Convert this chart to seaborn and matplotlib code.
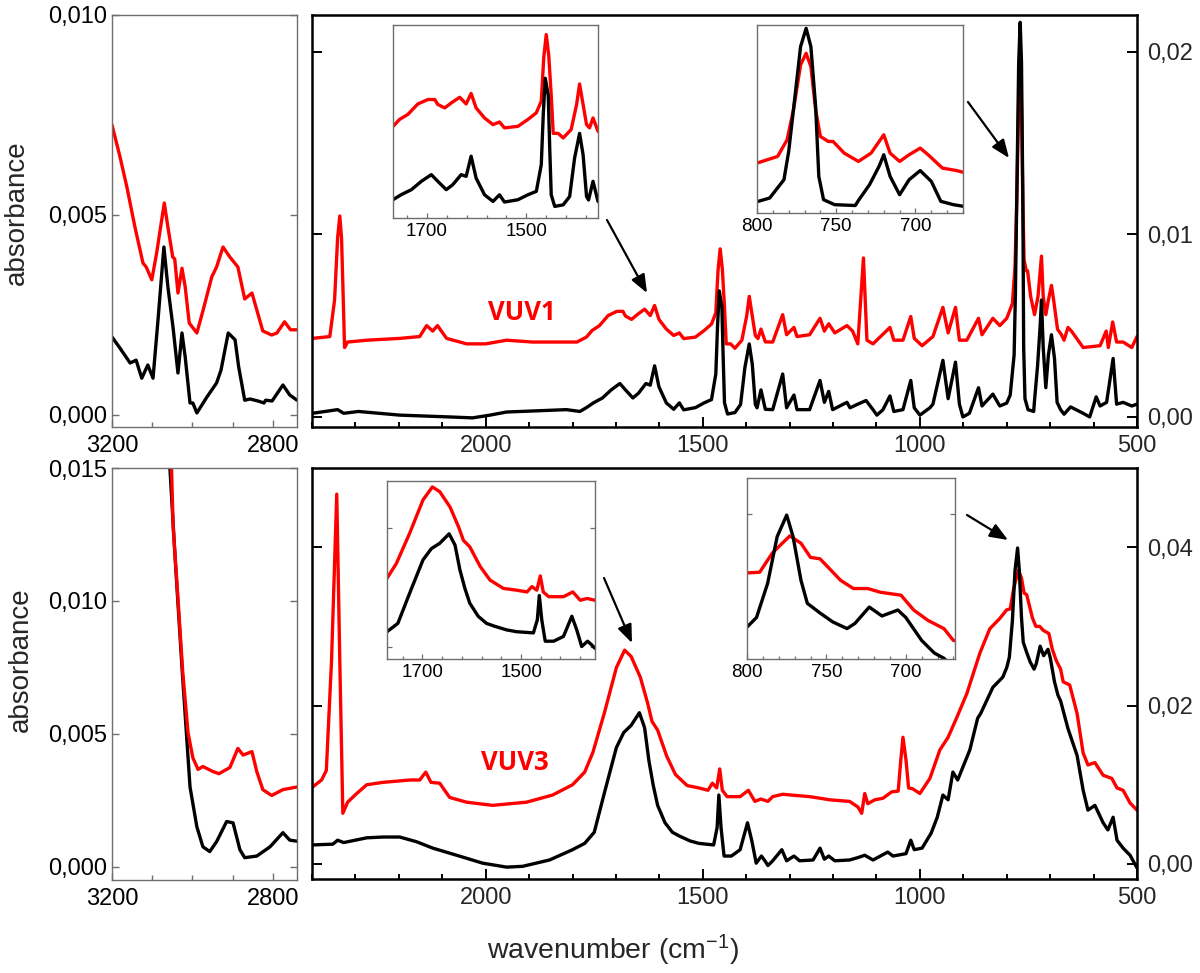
import matplotlib
matplotlib.use("Agg")
import matplotlib.pyplot as plt
import seaborn as sns
from matplotlib.ticker import FixedLocator, MultipleLocator, FuncFormatter, NullLocator

# ---------------- spectra ----------------
# upper row, C-H stretching region (left panel)
tl_red_wn = [3200, 3180, 3163, 3143, 3123, 3115, 3101, 3089, 3070, 3061, 3049, 3044, 3036, 3026, 3018,
             3008, 2989, 2974, 2952, 2940, 2924, 2907, 2887, 2870, 2852, 2825, 2803, 2790, 2771, 2756, 2740]
tl_red_abs = [0.00725, 0.00645, 0.0057, 0.0047, 0.0038, 0.0037, 0.00338, 0.00405, 0.0053, 0.0047, 0.00395,
              0.0039, 0.00305, 0.00367, 0.0032, 0.0023, 0.00205, 0.0026, 0.00345, 0.0037, 0.0042, 0.00395,
              0.0037, 0.0029, 0.00305, 0.0021, 0.0020, 0.00205, 0.00233, 0.00213, 0.00213]
tl_black_wn = [3200, 3180, 3155, 3140, 3126, 3111, 3098, 3085, 3071, 3061, 3048, 3036, 3026, 3018, 3006, 2999,
               2989, 2964, 2940, 2929, 2911, 2894, 2885, 2870, 2857, 2837, 2822, 2818, 2802, 2775, 2758, 2740]
tl_black_abs = [0.00195, 0.00167, 0.0013, 0.00137, 0.00092, 0.00125, 0.00092, 0.00245, 0.0042, 0.0032, 0.00217,
                0.00105, 0.00205, 0.00145, 0.0003, 0.0003, 0.00005, 0.00045, 0.0008, 0.00112, 0.00205, 0.00188,
                0.0012, 0.00037, 0.0004, 0.00035, 0.0003, 0.00037, 0.00035, 0.00075, 0.0005, 0.00037]

# upper row, fingerprint region (VUV1)
top_red_wn = [2399, 2359, 2348, 2341, 2336, 2332, 2329, 2325, 2318, 2274,
              2198, 2152, 2136, 2122, 2111, 2090, 2044, 2000, 1952, 1892,
              1790, 1768, 1755, 1738, 1718, 1698, 1684, 1678, 1664, 1651,
              1634, 1621, 1611, 1601, 1584, 1567, 1554, 1544, 1517, 1497,
              1480, 1470, 1465, 1460, 1455, 1450, 1446, 1436, 1426, 1410,
              1399, 1393, 1386, 1379, 1373, 1366, 1356, 1339, 1316, 1307,
              1290, 1283, 1254, 1230, 1220, 1210, 1196, 1168, 1155, 1143,
              1130, 1122, 1108, 1069, 1060, 1039, 1021, 1013, 995, 970,
              947, 935, 918, 909, 892, 865, 857, 832, 816, 800,
              787, 781, 777, 772.5, 769, 766, 763, 760, 755, 752,
              745, 736, 728, 720, 716, 710, 704, 697, 692, 683,
              674, 668, 659, 651, 624, 585, 571, 566, 556, 547,
              532, 512, 500]
top_red_abs = [0.0043, 0.0044, 0.0064, 0.0098, 0.0110, 0.0098, 0.0073, 0.0038, 0.0041, 0.0042,
               0.0043, 0.0044, 0.0050, 0.0047, 0.0050, 0.0043, 0.0040, 0.0040, 0.0042, 0.0041,
               0.0041, 0.00437, 0.00473, 0.0050, 0.00555, 0.00578, 0.00578, 0.00552, 0.00534, 0.0056,
               0.0059, 0.00555, 0.0061, 0.00534, 0.00481, 0.00446, 0.0046, 0.00429, 0.00437, 0.00473,
               0.00508, 0.0057, 0.0080, 0.0092, 0.0081, 0.0060, 0.0040, 0.0040, 0.00376, 0.0042,
               0.00552, 0.0066, 0.00552, 0.00446, 0.00429, 0.00481, 0.00411, 0.0041, 0.0056, 0.0045,
               0.0049, 0.0044, 0.0045, 0.0054, 0.0047, 0.0051, 0.0046, 0.0050, 0.0047, 0.0040,
               0.0087, 0.0042, 0.0040, 0.0049, 0.0042, 0.0042, 0.0055, 0.0043, 0.0039, 0.0044,
               0.0060, 0.0046, 0.0060, 0.0042, 0.0042, 0.0054, 0.0045, 0.0054, 0.0050, 0.0054,
               0.0062, 0.0082, 0.0118, 0.0172, 0.0186, 0.0170, 0.0118, 0.0086, 0.0080, 0.0080,
               0.0066, 0.0056, 0.0066, 0.0088, 0.0066, 0.0056, 0.0064, 0.0072, 0.0064, 0.0048,
               0.0045, 0.0042, 0.0049, 0.0047, 0.0038, 0.0039, 0.0047, 0.0038, 0.0052, 0.0041,
               0.0041, 0.0038, 0.0044]
top_black_wn = [2399, 2341, 2327, 2293, 2198, 2083, 2030, 1990, 1952, 1814,
                1783, 1768, 1752, 1731, 1711, 1691, 1678, 1661, 1648, 1631,
                1621, 1611, 1601, 1584, 1567, 1554, 1544, 1517, 1497, 1480,
                1470, 1466, 1462, 1456, 1453, 1450, 1443, 1426, 1413, 1403,
                1393, 1386, 1379, 1375, 1366, 1356, 1339, 1316, 1307, 1290,
                1283, 1254, 1230, 1220, 1210, 1201, 1168, 1161, 1143, 1124,
                1108, 1099, 1085, 1069, 1060, 1039, 1021, 1013, 1000, 977,
                970, 947, 935, 918, 909, 901, 886, 865, 857, 832,
                816, 800, 792, 783, 780, 777, 772.5, 769, 766, 763, 761,
                758, 751, 738, 736, 729, 723, 720, 716, 710, 704,
                697, 690, 684, 676, 668, 653, 624, 609, 594, 585,
                570, 555, 547, 532, 512, 500]
top_black_abs = [0.0002, 0.0004, 0.0002, 0.0003, 0.0001, 0.0, -0.00005, 0.0001, 0.00027, 0.0004,
                 0.0003, 0.00051, 0.00077, 0.00104, 0.00148, 0.00183, 0.00148, 0.00104, 0.0013, 0.00183,
                 0.00174, 0.0028, 0.00165, 0.00077, 0.00042, 0.00077, 0.00039, 0.00051, 0.00077, 0.00095,
                 0.00235, 0.0050, 0.0069, 0.0060, 0.0032, 0.00077, 0.00016, 0.00024, 0.00068, 0.00271,
                 0.0040, 0.00288, 0.00068, 0.0005, 0.00148, 0.00042, 0.0004, 0.00235, 0.0005, 0.0012,
                 0.0004, 0.0004, 0.0020, 0.0008, 0.0014, 0.0004, 0.0008, 0.0005, 0.0007, 0.0009,
                 0.0004, 0.0001, 0.0004, 0.00115, 0.0003, 0.0004, 0.0020, 0.0005, 0.0001, 0.0005,
                 0.0007, 0.0031, 0.0010, 0.0030, 0.0007, 0.0, 0.0002, 0.0016, 0.0006, 0.00125,
                 0.0006, 0.00076, 0.0012, 0.0034, 0.0068, 0.0118, 0.0194, 0.0216, 0.0194, 0.0122, 0.0038,
                 0.0010, 0.0004, 0.0003, 0.0009, 0.0028, 0.0050, 0.0064, 0.0038, 0.0016, 0.0034,
                 0.0045, 0.0032, 0.0008, 0.0004, 0.00015, 0.00055, 0.0002, 0.0, 0.0011, 0.0006,
                 0.0008, 0.0032, 0.0007, 0.0008, 0.0006, 0.0007]

# lower row, C-H stretching region (left panel)
bl_red_wn = [3058, 3052, 3048, 3036, 3024, 3011, 2999, 2986, 2974, 2949, 2934, 2907, 2887, 2874, 2852, 2840,
             2825, 2803, 2775, 2740]
bl_red_abs = [0.0175, 0.0150, 0.0128, 0.0101, 0.0073, 0.00505, 0.0041, 0.00366, 0.00377, 0.00358, 0.0035,
              0.00373, 0.00445, 0.0042, 0.00433, 0.00358, 0.0029, 0.00268, 0.0029, 0.0030]
bl_black_wn = [3062, 3056, 3043, 3026, 3014, 3006, 2989, 2974, 2957, 2940, 2915, 2899, 2882, 2870, 2840, 2807,
               2775, 2758, 2740]
bl_black_abs = [0.0175, 0.0150, 0.0116, 0.0075, 0.0048, 0.0030, 0.0015, 0.00075, 0.00057, 0.00094, 0.0017,
                0.00165, 0.00064, 0.00034, 0.0004, 0.00075, 0.00128, 0.0010, 0.00096]

# lower row, fingerprint region (VUV3)
bot_red_wn = [2399, 2378, 2367, 2355, 2343, 2336, 2329, 2318, 2297, 2274,
              2237, 2175, 2152, 2138, 2126, 2106, 2083, 2044, 1984, 1906,
              1846, 1800, 1772, 1753, 1726, 1699, 1680, 1665, 1644, 1627,
              1617, 1604, 1583, 1563, 1536, 1509, 1488, 1478, 1468, 1461,
              1455, 1444, 1414, 1395, 1380, 1366, 1350, 1339, 1316, 1296,
              1254, 1230, 1208, 1162, 1143, 1134, 1127, 1120, 1104, 1085,
              1065, 1050, 1044, 1039, 1032, 1026, 1017, 1000, 977, 954,
              935, 915, 892, 862, 839, 816, 800, 792, 784, 773,
              766, 760, 754, 741, 733, 724, 716, 703, 695, 686,
              676, 670, 655, 638, 624, 613, 597, 578, 558, 546,
              532, 516, 500]
bot_red_abs = [0.0097, 0.0106, 0.0118, 0.0257, 0.0467, 0.0257, 0.0064, 0.0078, 0.0089, 0.0100,
               0.0103, 0.0106, 0.0106, 0.0116, 0.0103, 0.0102, 0.0084, 0.0078, 0.0074, 0.0078,
               0.0087, 0.0100, 0.0116, 0.0141, 0.0192, 0.0248, 0.0270, 0.0262, 0.0236, 0.0203,
               0.0180, 0.0169, 0.0136, 0.0113, 0.0099, 0.0096, 0.0093, 0.0102, 0.0096, 0.0120,
               0.0093, 0.0085, 0.0085, 0.0093, 0.0079, 0.0082, 0.0079, 0.0085, 0.0088, 0.0087,
               0.0085, 0.0083, 0.0081, 0.0079, 0.0072, 0.0064, 0.0089, 0.0076, 0.0081, 0.0083,
               0.0091, 0.0092, 0.0131, 0.0160, 0.0131, 0.0096, 0.0095, 0.0089, 0.0108, 0.0144,
               0.0160, 0.0185, 0.0215, 0.0266, 0.0297, 0.0310, 0.0321, 0.0322, 0.0348, 0.0371,
               0.0361, 0.0342, 0.0340, 0.0311, 0.0300, 0.0300, 0.0295, 0.0291, 0.0271, 0.0257,
               0.0246, 0.0230, 0.0226, 0.0190, 0.0140, 0.0125, 0.0128, 0.0112, 0.0108, 0.0096,
               0.0093, 0.0077, 0.0068]
bot_black_wn = [2399, 2352, 2341, 2327, 2274, 2237, 2198, 2159, 2122, 2067,
                2007, 1952, 1915, 1853, 1800, 1772, 1750, 1726, 1699, 1682,
                1665, 1646, 1634, 1624, 1614, 1604, 1587, 1570, 1553, 1529,
                1509, 1475, 1467, 1463, 1458, 1451, 1434, 1414, 1397, 1387,
                1377, 1365, 1357, 1350, 1339, 1318, 1307, 1290, 1277, 1246,
                1230, 1220, 1210, 1196, 1162, 1143, 1127, 1108, 1074, 1062,
                1032, 1021, 1013, 995, 974, 960, 947, 935, 924, 913,
                885, 867, 860, 832, 809, 800, 794, 787, 781, 775,
                771, 766, 762, 754, 746, 737, 732, 723, 715, 705,
                700, 690, 682, 676, 659, 638, 624, 613, 597, 578,
                567, 555, 546, 532, 516, 500]
bot_black_abs = [0.0024, 0.0025, 0.0030, 0.0027, 0.0033, 0.0034, 0.0034, 0.0028, 0.0020, 0.0011,
                 0.0001, -0.0004, -0.0003, 0.0005, 0.0018, 0.0026, 0.0040, 0.0091, 0.0147, 0.0166,
                 0.0175, 0.0191, 0.0172, 0.0130, 0.0099, 0.0074, 0.0052, 0.0040, 0.0035, 0.0029,
                 0.0026, 0.0024, 0.0046, 0.0087, 0.0046, 0.0010, 0.0010, 0.0018, 0.0052, 0.0029,
                 0.0001, 0.0010, 0.0004, -0.0002, 0.0004, 0.0018, 0.0004, 0.0010, 0.0004, 0.0005,
                 0.0020, 0.0006, 0.0010, 0.0004, 0.0005, 0.0008, 0.0011, 0.0005, 0.0015, 0.0010,
                 0.0013, 0.0030, 0.0018, 0.0020, 0.0039, 0.0059, 0.0087, 0.0081, 0.0116, 0.0106,
                 0.0144, 0.0184, 0.0190, 0.0223, 0.0236, 0.0248, 0.0261, 0.0307, 0.0370, 0.0399,
                 0.0370, 0.0311, 0.0280, 0.0267, 0.0255, 0.0246, 0.0253, 0.0275, 0.0263, 0.0271,
                 0.0261, 0.0230, 0.0213, 0.0206, 0.0171, 0.0137, 0.0093, 0.0068, 0.0074, 0.0052,
                 0.0043, 0.0059, 0.0030, 0.0020, 0.0011, -0.0005]

# ---------------- styling ----------------
sns.set_style("ticks")
plt.rcParams['font.family'] = ['Liberation Sans', 'DejaVu Sans']
plt.rcParams['mathtext.fontset'] = 'custom'
plt.rcParams['mathtext.rm'] = 'Liberation Sans'
plt.rcParams['mathtext.it'] = 'Liberation Sans:italic'

RED = '#ff0000'
BLACK = '#000000'
GREY = '#6e6e6e'

fig = plt.figure(figsize=(12, 9.73), dpi=100)


def panel(left, top, right, bottom):
    # box given in pixels of the 1200x973 picture
    return fig.add_axes([left / 1200, 1 - bottom / 973, (right - left) / 1200, (bottom - top) / 973])


def comma(fmt):
    return FuncFormatter(lambda v, pos: format(v, fmt).replace('.', ','))


def draw(ax, wn, absb, color, lw=2.4):
    sns.lineplot(x=wn, y=absb, ax=ax, color=color, linewidth=lw, estimator=None, legend=False)
    ax.set_xlabel('')
    ax.set_ylabel('')


def style_main(ax, ylim, yticks):
    ax.set_xlim(2400, 500)
    ax.set_ylim(*ylim)
    ax.xaxis.set_major_locator(MultipleLocator(500))
    ax.xaxis.set_minor_locator(MultipleLocator(100))
    ax.yaxis.set_major_locator(FixedLocator(yticks))
    ax.yaxis.set_minor_locator(NullLocator())
    ax.yaxis.set_major_formatter(comma('.2f'))
    ax.tick_params(which='both', direction='in', color='black', width=1.4)
    ax.tick_params(which='major', length=7, labelsize=17)
    ax.tick_params(which='minor', length=3.5)
    ax.tick_params(axis='x', which='both', bottom=True, top=False, pad=6)
    ax.tick_params(axis='y', left=True, right=True, labelleft=False, labelright=True, pad=7)
    for sp in ax.spines.values():
        sp.set_visible(True)
        sp.set_color('black')
        sp.set_linewidth(1.8)


def style_left(ax, ylim, yticks):
    ax.set_xlim(3200, 2740)
    ax.set_ylim(*ylim)
    ax.xaxis.set_major_locator(FixedLocator([3200, 2800]))
    ax.xaxis.set_minor_locator(MultipleLocator(100))
    ax.yaxis.set_major_locator(FixedLocator(yticks))
    ax.yaxis.set_major_formatter(comma('.3f'))
    ax.tick_params(which='both', direction='in', color=GREY, width=1.0, labelcolor='black')
    ax.tick_params(which='major', length=5, labelsize=17)
    ax.tick_params(which='minor', length=3.5)
    ax.tick_params(axis='x', which='both', bottom=True, top=False, pad=6)
    ax.tick_params(axis='y', left=True, right=True, pad=3.5)
    for sp in ax.spines.values():
        sp.set_visible(True)
        sp.set_color(GREY)
        sp.set_linewidth(1.0)


def style_inset(ax, xlim, ylim, xmajor, xminor, yticks):
    ax.set_xlim(*xlim)
    ax.set_ylim(*ylim)
    ax.xaxis.set_major_locator(xmajor)
    ax.xaxis.set_minor_locator(xminor)
    ax.xaxis.set_major_formatter(FuncFormatter(lambda v, pos: f"{v:.0f}"))
    ax.yaxis.set_major_locator(FixedLocator(yticks))
    ax.tick_params(which='both', direction='in', color=GREY, width=0.9, labelcolor='black')
    ax.tick_params(which='major', length=3.5, labelsize=13.5)
    ax.tick_params(which='minor', length=2.5)
    ax.tick_params(axis='x', which='both', bottom=True, top=False, pad=3.5)
    ax.tick_params(axis='y', left=True, right=True, labelleft=False)
    for sp in ax.spines.values():
        sp.set_visible(True)
        sp.set_color(GREY)
        sp.set_linewidth(1.0)


def arrow(ax, x0, y0, x1, y1):
    ax.annotate('', xy=(x1 / 1200, 1 - y1 / 973), xytext=(x0 / 1200, 1 - y0 / 973),
                xycoords='figure fraction', textcoords='figure fraction',
                arrowprops=dict(arrowstyle='-|>,head_length=0.55,head_width=0.22', color='black',
                                lw=1.6, shrinkA=0, shrinkB=0, mutation_scale=20))


# ---- upper row ----
ax_tl = panel(112, 15, 297, 427)
draw(ax_tl, tl_black_wn, tl_black_abs, BLACK)
draw(ax_tl, tl_red_wn, tl_red_abs, RED)
style_left(ax_tl, (-0.0003, 0.010), [0.0, 0.005, 0.010])

ax_tm = panel(312, 15, 1137, 427)
draw(ax_tm, top_red_wn, top_red_abs, RED)
draw(ax_tm, top_black_wn, top_black_abs, BLACK)
style_main(ax_tm, (-0.00055, 0.022), [0.0, 0.01, 0.02])
arrow(ax_tm, 607, 220, 647, 293)
arrow(ax_tm, 968, 102, 1009, 158)

ax_i1 = panel(393, 25, 598, 218)
draw(ax_i1, top_red_wn, top_red_abs, RED)
draw(ax_i1, top_black_wn, top_black_abs, BLACK)
style_inset(ax_i1, (1768, 1356), (-0.00045, 0.0097), FixedLocator([1700, 1500]),
            FixedLocator(list(range(1380, 1780, 40))), [])

ax_i2 = panel(757, 25, 963, 213)
draw(ax_i2, top_red_wn, top_red_abs, RED)
draw(ax_i2, top_black_wn, top_black_abs, BLACK)
style_inset(ax_i2, (800, 670), (-0.0006, 0.022), MultipleLocator(50), MultipleLocator(10), [])

# ---- lower row ----
ax_bl = panel(112, 468, 297, 880)
draw(ax_bl, bl_black_wn, bl_black_abs, BLACK)
draw(ax_bl, bl_red_wn, bl_red_abs, RED)
style_left(ax_bl, (-0.0005, 0.015), [0.0, 0.005, 0.010, 0.015])

ax_bm = panel(312, 468, 1137, 879)
draw(ax_bm, bot_red_wn, bot_red_abs, RED)
draw(ax_bm, bot_black_wn, bot_black_abs, BLACK)
style_main(ax_bm, (-0.0019, 0.050), [0.0, 0.02, 0.04])
arrow(ax_bm, 604, 578, 632, 643)
arrow(ax_bm, 967, 515, 1008, 540)

ax_i3 = panel(387, 481, 595, 659)
draw(ax_i3, bot_red_wn, bot_red_abs, RED)
draw(ax_i3, bot_black_wn, bot_black_abs, BLACK)
style_inset(ax_i3, (1772, 1350), (-0.002, 0.028), FixedLocator([1700, 1500]),
            FixedLocator(list(range(1380, 1780, 40))), [0.0, 0.02])

ax_i4 = panel(747, 478, 955, 659)
draw(ax_i4, bot_red_wn, bot_red_abs, RED)
draw(ax_i4, bot_black_wn, bot_black_abs, BLACK)
style_inset(ax_i4, (800, 669), (0.0205, 0.0449), MultipleLocator(50), MultipleLocator(10), [0.04])

# ---- labels ----
fig.text(17 / 1200, 1 - 213 / 973, 'absorbance', rotation=90, ha='center', va='center', fontsize=20)
fig.text(21 / 1200, 1 - 660 / 973, 'absorbance', rotation=90, ha='center', va='center', fontsize=20)
fig.text(613 / 1200, 1 - 950 / 973, 'wavenumber (cm$^{-1}$)', ha='center', va='center', fontsize=20.5)
fig.text(522 / 1200, 1 - 312 / 973, 'VUV1', color=RED, fontsize=18.5, fontweight='bold',
         family=['Open Sans', 'DejaVu Sans'], ha='center', va='center')
fig.text(515 / 1200, 1 - 762 / 973, 'VUV3', color=RED, fontsize=18.5, fontweight='bold',
         family=['Open Sans', 'DejaVu Sans'], ha='center', va='center')

fig.savefig('out.png', dpi=100)
